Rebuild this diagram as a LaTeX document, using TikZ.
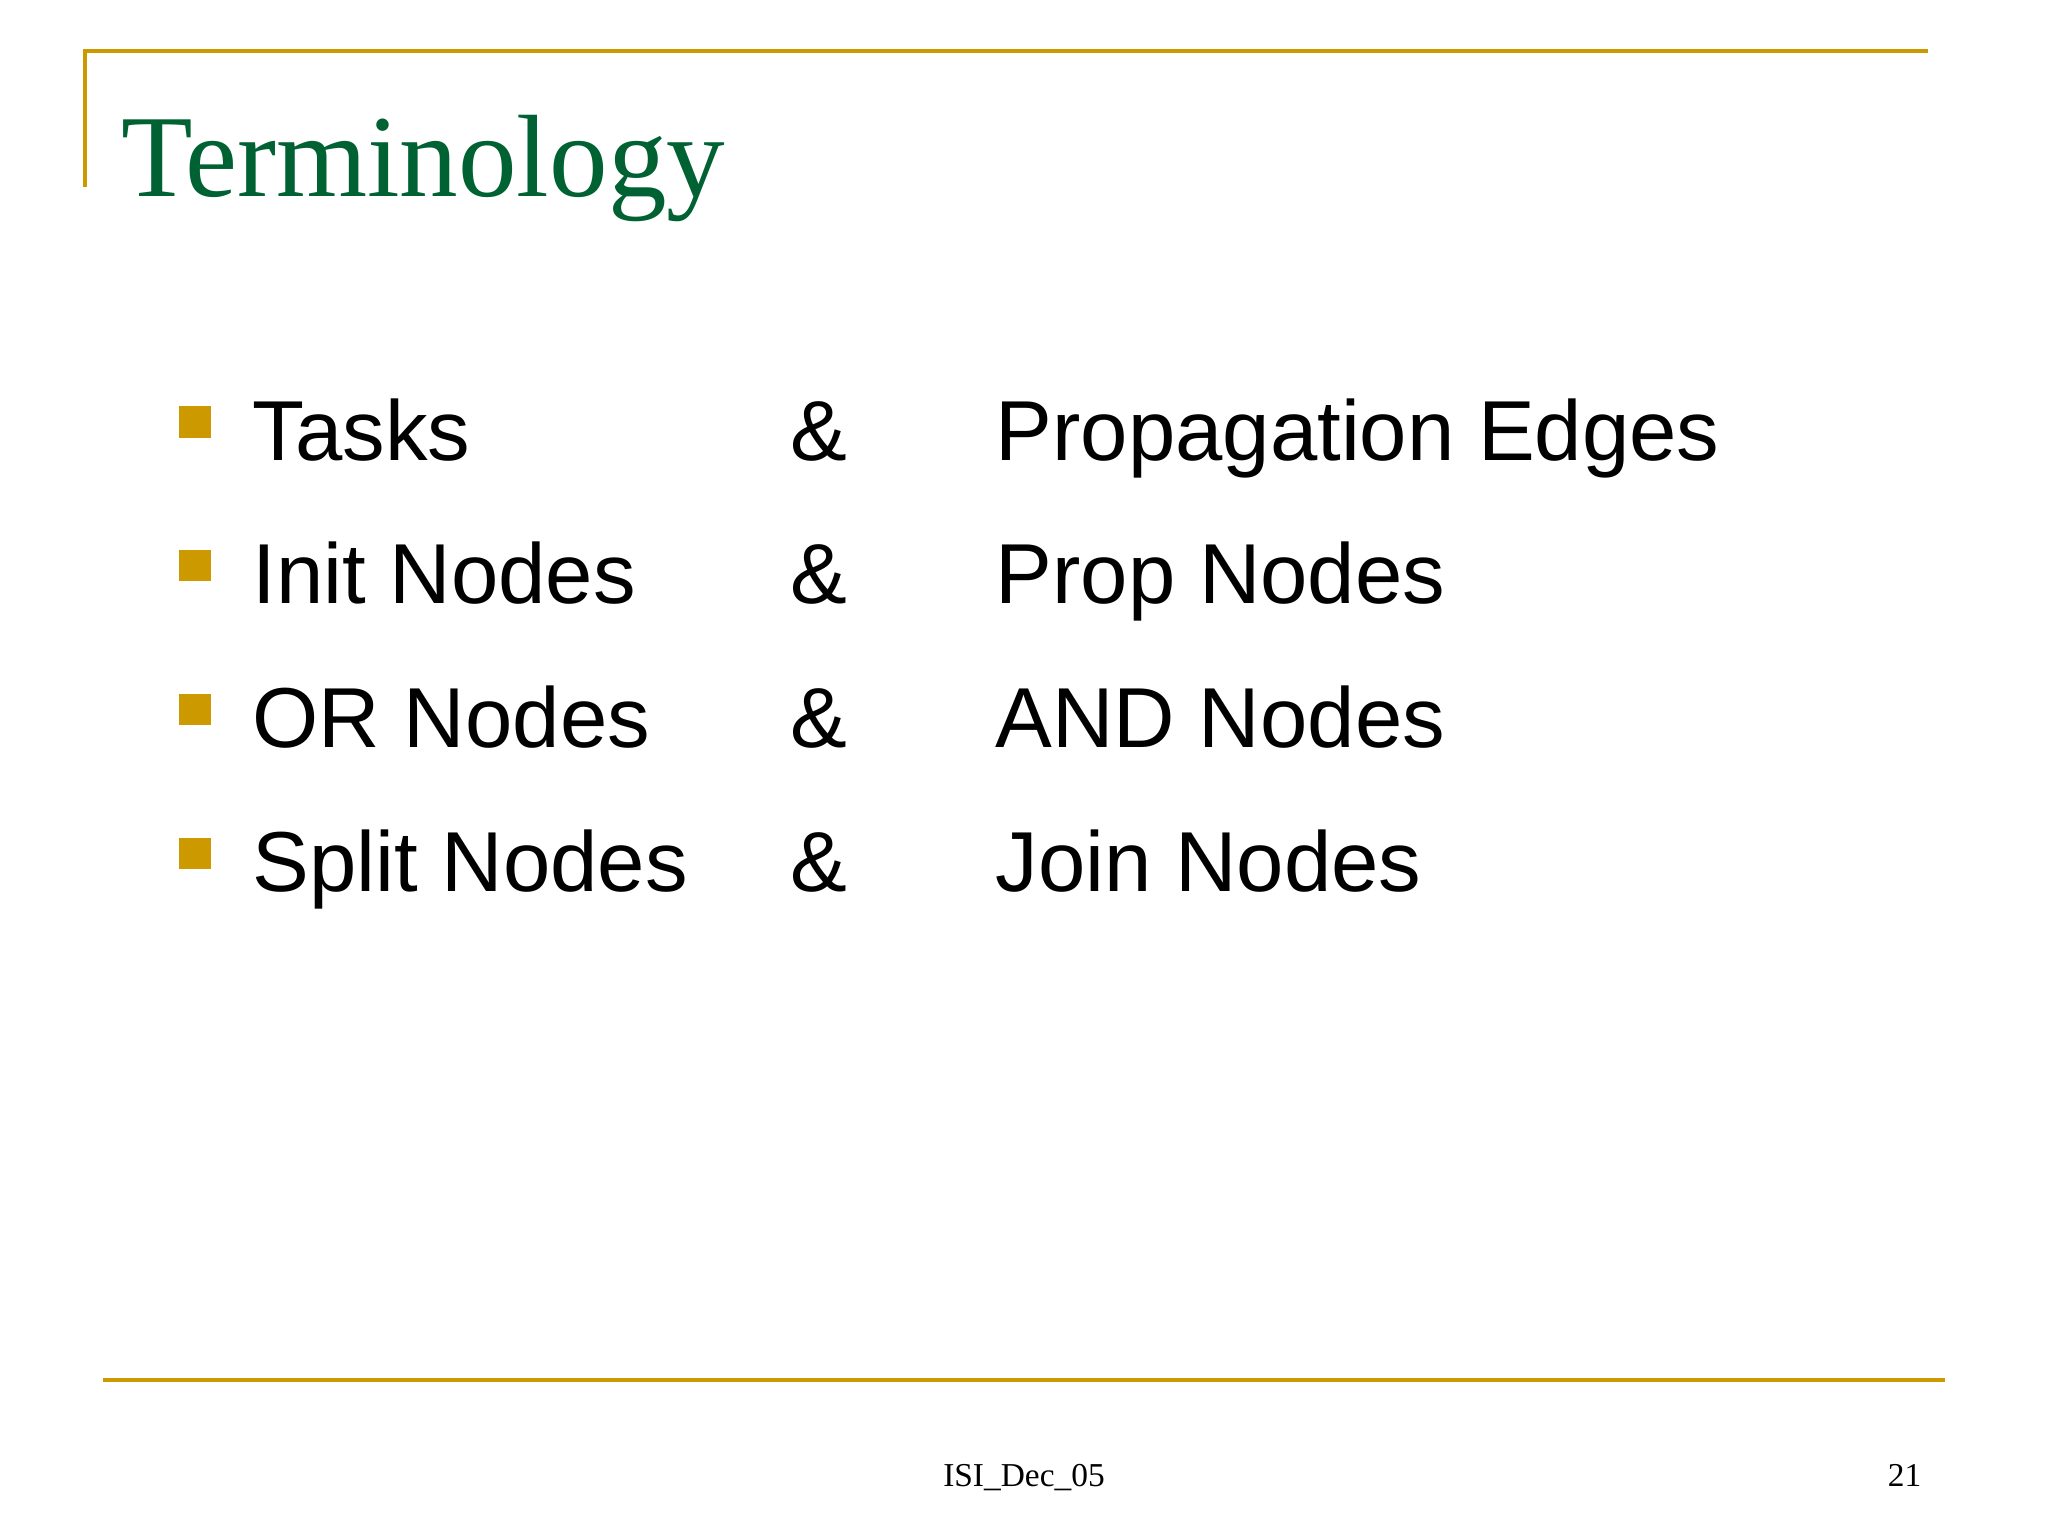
\documentclass[tikz,border=0pt]{standalone}
\usepackage{fontspec}
\setmainfont{Liberation Serif}
\setsansfont{Liberation Sans}
\definecolor{gold}{RGB}{204,153,0}
\definecolor{tgreen}{RGB}{0,98,50}
\begin{document}
\begin{tikzpicture}[x=0.01cm,y=-0.01cm,
  item/.style={anchor=base west,inner sep=0,font=\sffamily\fontsize{24.2}{28}\selectfont},
  bullet/.style={fill=gold,draw=none,minimum size=0.31cm,inner sep=0},
  rule/.style={draw=gold,line width=1.4pt}]
\useasboundingbox (0,0) rectangle (2048,1536);
\fill[white] (0,0) rectangle (2048,1536);
\coordinate (tl) at (85,51); \coordinate (tr) at (1928,51); \coordinate (lb) at (85,187);
\draw[rule] (lb) -- (tl) -- (tr);
\coordinate (bl) at (103,1380); \coordinate (br) at (1945,1380);
\draw[rule] (bl) -- (br);
\node[anchor=base west,inner sep=0,text=tgreen,font=\fontsize{33.3}{38}\selectfont] (title) at (121,196) {Terminology};
\foreach \i/\y/\a/\b in {1/460/Tasks/Propagation Edges,2/603/Init Nodes/Prop Nodes,3/747/OR Nodes/AND Nodes,4/891/Split Nodes/Join Nodes}{
  \node[bullet] (b\i) at (195,\y-38) {};
  \node[item] (l\i) at (252,\y) {\a};
  \node[item] (m\i) at (790,\y) {\&};
  \node[item] (r\i) at (995,\y) {\b};
}
\node[anchor=base,inner sep=0,font=\fontsize{9.5}{11}\selectfont] (foot) at (1024,1486) {ISI\_Dec\_05};
\node[anchor=base east,inner sep=0,font=\fontsize{9.5}{11}\selectfont] (num) at (1922,1486) {21};
\end{tikzpicture}
\end{document}
